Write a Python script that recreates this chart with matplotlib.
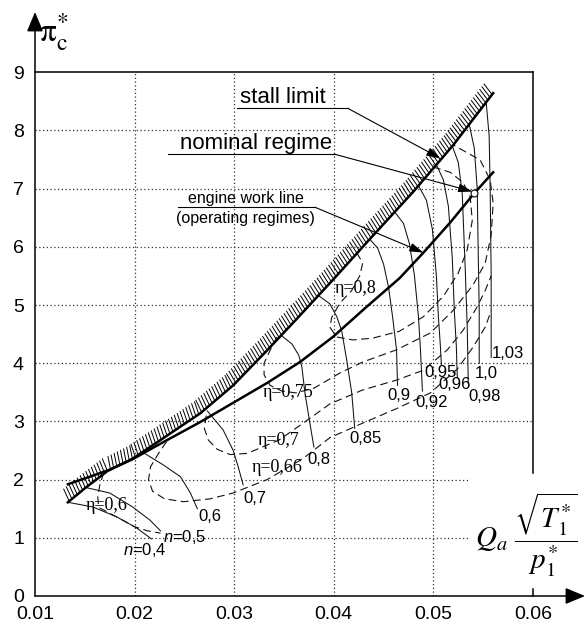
"""Compressor map: pressure ratio vs corrected flow, with speed lines,
efficiency islands, stall limit and engine work line."""

import matplotlib
matplotlib.use("Agg")
import matplotlib.pyplot as plt
from matplotlib import patheffects as pe

plt.rcParams["font.family"] = ["Liberation Sans", "DejaVu Sans"]
plt.rcParams["mathtext.fontset"] = "custom"
plt.rcParams["mathtext.rm"] = "Liberation Sans"
plt.rcParams["mathtext.it"] = "Liberation Sans:italic"
plt.rcParams["mathtext.sf"] = "Liberation Sans"

# axes
X_TICKS = [0.01, 0.02, 0.03, 0.04, 0.05, 0.06]
X_TICK_LABELS = ["0.01", "0.02", "0.03", "0.04", "0.05", "0.06"]
Y_TICKS = [0, 1, 2, 3, 4, 5, 6, 7, 8, 9]
X_GRID = [0.02, 0.03, 0.04, 0.05]
Y_GRID = [1, 2, 3, 4, 5, 6, 7, 8]

# stall limit (surge line)
STALL_Q = [0.0133, 0.0150, 0.0173, 0.0198, 0.0226, 0.0266, 0.0299, 0.0333,
           0.0366, 0.0399, 0.0436, 0.0480, 0.0520, 0.0560]
STALL_PI = [1.61, 1.85, 2.15, 2.36, 2.68, 3.14, 3.62, 4.22,
            4.82, 5.43, 6.13, 6.95, 7.75, 8.64]

# engine work line
WORK_Q = [0.0133, 0.0155, 0.0175, 0.0198, 0.0222, 0.0266, 0.0299, 0.0333,
          0.0366, 0.0399, 0.0433, 0.0466, 0.0490, 0.0517, 0.0541, 0.0560]
WORK_PI = [1.92, 2.05, 2.17, 2.35, 2.58, 2.99, 3.32, 3.66,
           4.02, 4.45, 4.97, 5.46, 5.90, 6.42, 6.92, 7.28]

NOMINAL_Q = 0.0541
NOMINAL_PI = 6.92

# constant speed lines
SPEED_LABELS = ["$\\mathit{n}$=0,4", "$\\mathit{n}$=0,5", "0,6", "0,7", "0,8", "0,85",
                "0,9", "0,92", "0,95", "0,96", "0,98", "1,0", "1,03"]
SPEED_Q = [
    [0.0133, 0.0158, 0.0182, 0.0202, 0.0217],
    [0.0152, 0.0175, 0.0198, 0.0215, 0.0226],
    [0.0210, 0.0229, 0.0246, 0.0256, 0.0263],
    [0.0273, 0.0289, 0.0299, 0.0304, 0.0309],
    [0.0347, 0.0358, 0.0365, 0.0368, 0.0371, 0.0376, 0.0380],
    [0.0384, 0.0396, 0.0403, 0.0408, 0.0413, 0.0418, 0.0421],
    [0.0436, 0.0444, 0.0450, 0.0455, 0.0459, 0.0463, 0.0464],
    [0.0462, 0.0470, 0.0476, 0.0481, 0.0485, 0.0487, 0.0489],
    [0.0485, 0.0493, 0.0499, 0.0503, 0.0505, 0.0507, 0.0508],
    [0.0503, 0.0510, 0.0515, 0.0519, 0.0521, 0.0523, 0.0524],
    [0.0519, 0.0525, 0.0529, 0.0532, 0.0534, 0.0535],
    [0.0536, 0.0541, 0.0544, 0.0545, 0.0546, 0.0546],
    [0.0553, 0.0556, 0.0557, 0.0558, 0.0558],
]
SPEED_PI = [
    [1.61, 1.53, 1.36, 1.17, 0.98],
    [1.86, 1.77, 1.53, 1.31, 1.12],
    [2.45, 2.25, 2.05, 1.77, 1.50],
    [3.18, 2.85, 2.50, 2.22, 1.91],
    [4.48, 4.33, 4.13, 3.93, 3.49, 2.97, 2.56],
    [5.17, 5.02, 4.80, 4.55, 4.05, 3.49, 2.88],
    [6.13, 5.98, 5.70, 5.30, 4.80, 4.23, 3.62],
    [6.58, 6.40, 6.05, 5.50, 4.80, 4.23, 3.52],
    [7.05, 6.80, 6.30, 5.50, 4.80, 4.30, 3.97],
    [7.41, 7.15, 6.70, 5.80, 4.90, 4.30, 3.75],
    [7.73, 7.45, 6.90, 5.60, 4.60, 3.66],
    [8.10, 7.70, 7.00, 5.90, 4.90, 4.00],
    [8.48, 7.90, 7.00, 5.50, 4.10],
]
SPEED_LABEL_Q = [0.0188, 0.0229, 0.0264, 0.0309, 0.0373, 0.0416,
                 0.0454, 0.0482, 0.0491, 0.0505, 0.0535, 0.0542, 0.0559]
SPEED_LABEL_PI = [0.79, 1.02, 1.36, 1.68, 2.34, 2.71,
                  3.44, 3.33, 3.84, 3.63, 3.42, 3.83, 4.17]

# efficiency contours
ETA_LABELS = ["η=0,6", "η=0,66", "η=0,7", "η=0,75", "η=0,8"]
ETA_Q = [
    [0.0169, 0.0165, 0.0163, 0.0164, 0.0172, 0.0185, 0.0200, 0.0213, 0.0226],
    [0.0232, 0.0224, 0.0216, 0.0214, 0.0218, 0.0230, 0.0249, 0.0276, 0.0299,
     0.0333, 0.0369, 0.0396, 0.0429, 0.0463, 0.0497, 0.0524, 0.0540, 0.0552, 0.0558],
    [0.0272, 0.0270, 0.0274, 0.0283, 0.0296, 0.0313, 0.0345, 0.0370, 0.0396,
     0.0429, 0.0463, 0.0490, 0.0514, 0.0530, 0.0544, 0.0552, 0.0558],
    [0.0343, 0.0336, 0.0330, 0.0330, 0.0336, 0.0348, 0.0362, 0.0380, 0.0406,
     0.0429, 0.0463, 0.0497, 0.0520, 0.0540, 0.0552, 0.0558, 0.0560, 0.0557,
     0.0547, 0.0520],
    [0.0423, 0.0429, 0.0426, 0.0418, 0.0406, 0.0398, 0.0396, 0.0403, 0.0419,
     0.0439, 0.0466, 0.0490, 0.0510, 0.0525, 0.0534, 0.0539, 0.0537, 0.0530,
     0.0517, 0.0500],
]
ETA_PI = [
    [2.12, 1.90, 1.70, 1.52, 1.45, 1.33, 1.19, 1.12, 1.08],
    [2.65, 2.45, 2.22, 2.00, 1.80, 1.67, 1.62, 1.67, 1.77,
     2.00, 2.36, 2.72, 2.97, 3.22, 3.49, 3.90, 4.28, 4.62, 4.90],
    [3.10, 2.88, 2.68, 2.52, 2.43, 2.45, 2.68, 2.98, 3.30,
     3.54, 3.71, 3.88, 4.23, 4.57, 4.97, 5.25, 5.50],
    [4.45, 4.22, 4.00, 3.80, 3.62, 3.52, 3.49, 3.57, 3.83,
     4.02, 4.23, 4.52, 4.91, 5.35, 5.72, 6.20, 6.75, 7.15,
     7.49, 7.75],
    [5.90, 5.72, 5.50, 5.25, 5.03, 4.79, 4.62, 4.45, 4.40,
     4.43, 4.55, 4.80, 5.15, 5.55, 5.95, 6.45, 6.85, 7.10,
     7.28, 7.37],
]
ETA_LABEL_Q = [0.0172, 0.0343, 0.0345, 0.0354, 0.0422]
ETA_LABEL_PI = [1.56, 2.20, 2.68, 3.49, 5.29]


fig = plt.figure(figsize=(5.85, 6.26), dpi=100)
ax = fig.add_axes([35 / 585, 30 / 626, 550 / 585, 584 / 626])
ax.set_xlim(0.01, 0.01 + 550 / 9960)
ax.set_ylim(0, 584 / 58.2)
for s in ax.spines.values():
    s.set_visible(False)

ax.set_xticks(X_TICKS, X_TICK_LABELS, fontsize=14)
ax.set_yticks(Y_TICKS, [str(v) for v in Y_TICKS], fontsize=14)
ax.tick_params(axis="both", length=0)
ax.tick_params(axis="x", pad=7)
ax.tick_params(axis="y", pad=8)

# dotted grid (the two lower lines stop short of the flow label)
grid_kw = dict(color="#333333", lw=0.9, ls=(0, (1, 2)), zorder=1)
for x in X_GRID:
    ax.plot([x, x], [0, 9], **grid_kw)
for y in Y_GRID:
    ax.plot([0.01, 0.0537 if y <= 2 else 0.06], [y, y], **grid_kw)

# frame
frame_kw = dict(color="k", lw=1.1, zorder=2, clip_on=False)
ax.plot([0.01, 0.06], [9, 9], **frame_kw)
ax.plot([0.06, 0.06], [2.11, 9], **frame_kw)
ax.plot([0.06, 0.06], [0, 0.12], **frame_kw)
arrow_kw = dict(arrowstyle="-|>,head_length=0.6,head_width=0.25", color="k",
                lw=1.1, mutation_scale=20, shrinkA=0, shrinkB=0)
ax.annotate("", xy=(0, 1), xytext=(0, 0), xycoords="axes fraction",
            textcoords="axes fraction", arrowprops=arrow_kw)
ax.annotate("", xy=(1, 0), xytext=(0, 0), xycoords="axes fraction",
            textcoords="axes fraction", arrowprops=arrow_kw)

# speed lines
for q, p in zip(SPEED_Q, SPEED_PI):
    ax.plot(q, p, color="#111111", lw=0.75, zorder=3)
for lab, q, p in zip(SPEED_LABELS, SPEED_LABEL_Q, SPEED_LABEL_PI):
    ax.text(q, p, lab, fontsize=12, ha="left", va="center", zorder=5)

# efficiency contours
for q, p in zip(ETA_Q, ETA_PI):
    ax.plot(q, p, color="#111111", lw=0.8, ls=(0, (7, 4)), zorder=3)
for lab, q, p in zip(ETA_LABELS, ETA_LABEL_Q, ETA_LABEL_PI):
    ax.text(q, p, lab, fontsize=13, family="Liberation Serif",
            ha="center", va="center", zorder=5)

# stall limit with hatching, work line
ax.plot(STALL_Q, STALL_PI, color="k", lw=1.8, zorder=4,
        path_effects=[pe.TickedStroke(spacing=2.5, angle=75, length=3.8,
                                      linewidth=0.7), pe.Normal()])
ax.plot(WORK_Q, WORK_PI, color="k", lw=1.8, zorder=4)
ax.plot(NOMINAL_Q, NOMINAL_PI, "o", ms=5, mfc="white", mec="k", mew=0.8, zorder=6)

# callouts
lead_kw = dict(arrowstyle="-|>,head_length=0.7,head_width=0.22", color="k",
               lw=0.8, mutation_scale=12, shrinkA=0, shrinkB=0)
ax.text(0.0306, 8.47, "stall limit", fontsize=16, ha="left", va="baseline")
ax.plot([0.0303, 0.0414], [8.38, 8.38], color="k", lw=0.8)
ax.annotate("", xy=(0.0507, 7.52), xytext=(0.0414, 8.38), arrowprops=lead_kw)

ax.text(0.0246, 7.68, "nominal regime", fontsize=16, ha="left", va="baseline")
ax.plot([0.0234, 0.0401], [7.59, 7.59], color="k", lw=0.8)
ax.annotate("", xy=(NOMINAL_Q - 0.0002, NOMINAL_PI + 0.03), xytext=(0.0401, 7.59),
            arrowprops=lead_kw)

ax.text(0.0312, 6.76, "engine work line", fontsize=11.5, ha="center", va="baseline")
ax.text(0.0311, 6.61, "(operating regimes)", fontsize=11.5, ha="center", va="top")
ax.plot([0.0244, 0.0381], [6.68, 6.68], color="k", lw=0.8)
ax.annotate("", xy=(WORK_Q[12], WORK_PI[12]), xytext=(0.0381, 6.68),
            arrowprops=lead_kw)

# axis titles
ax.text(0.0104, 9.68, r"$\mathrm{\pi}_{\mathrm{c}}^{*}$", math_fontfamily="stix",
        fontsize=24, ha="left", va="center")
ax.text(0.0542, 1.05, r"$Q_a\ \dfrac{\sqrt{T_1^{*}}}{p_1^{*}}$", math_fontfamily="stix",
        fontsize=21, ha="left", va="center")

fig.savefig("out.png", dpi=100)
